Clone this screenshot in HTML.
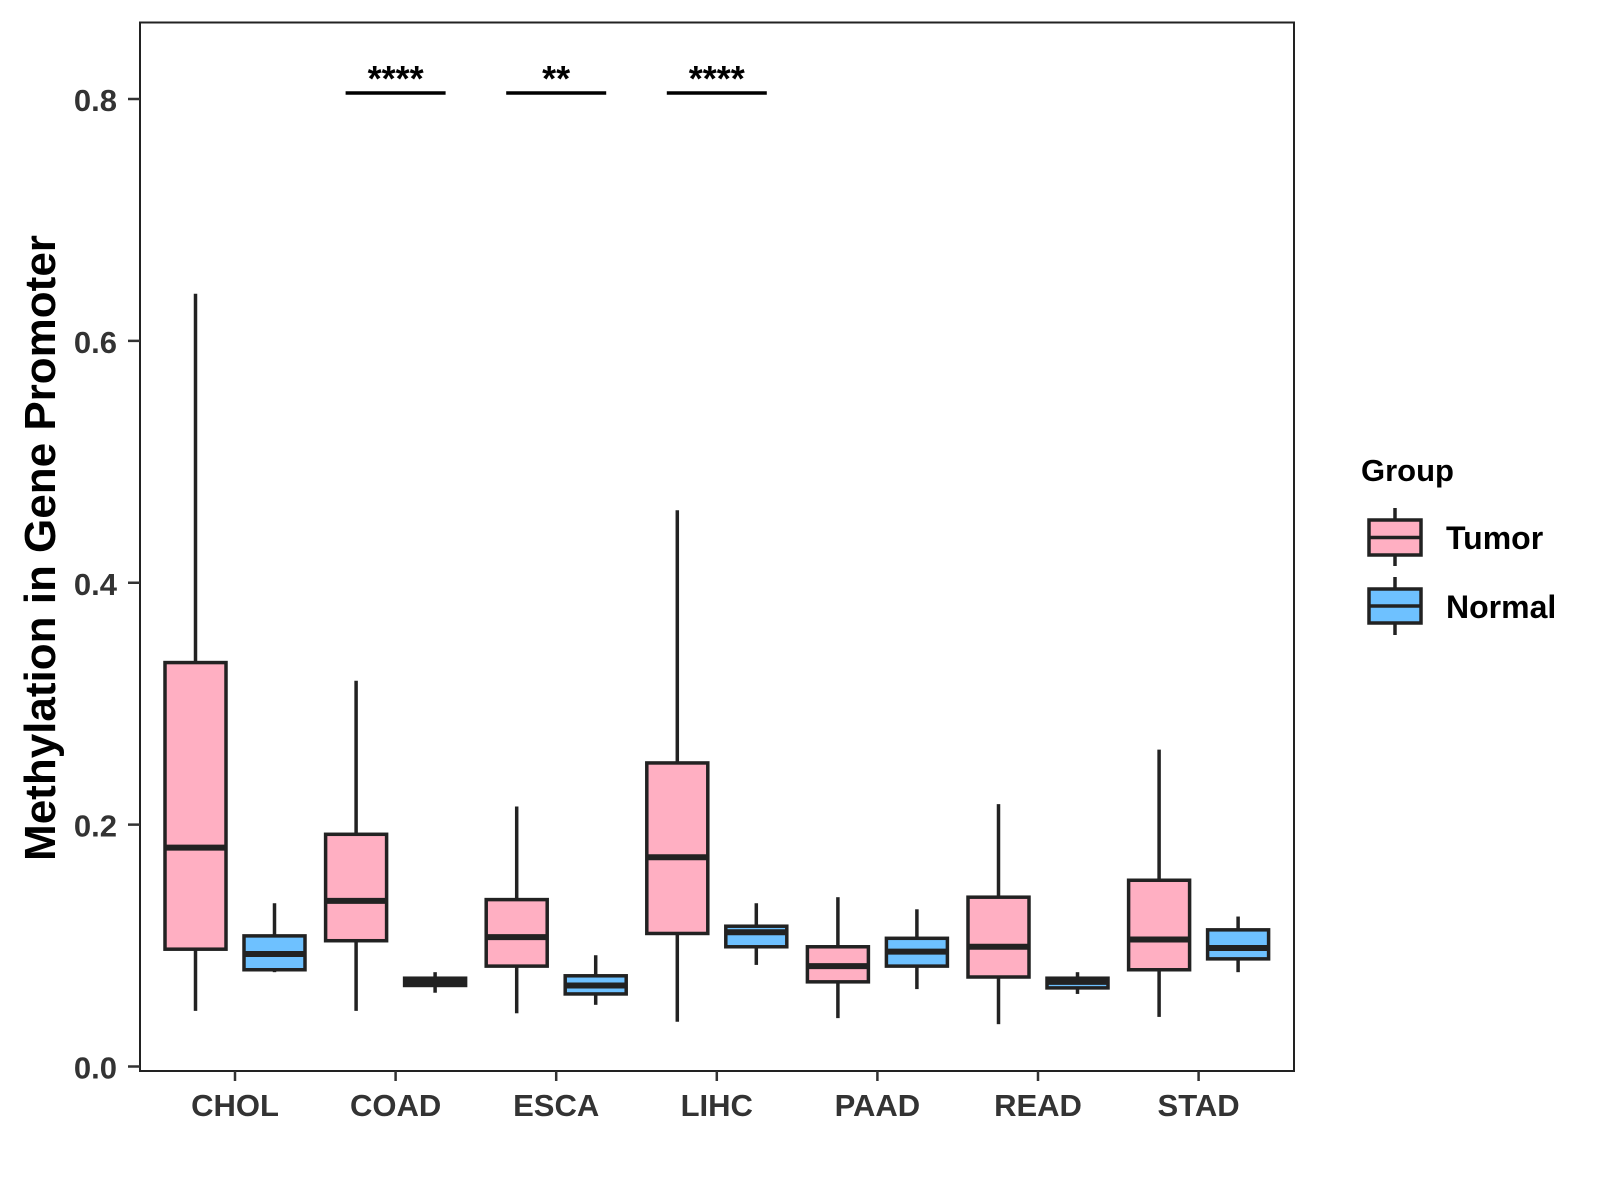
<!DOCTYPE html>
<html><head><meta charset="utf-8"><style>
html,body{margin:0;padding:0;background:#fff;}
svg{display:block;font-family:"Liberation Sans",Arial,sans-serif;font-weight:bold;}
</style></head><body>
<svg id="chart" width="1600" height="1200" viewBox="0 0 1600 1200" xmlns="http://www.w3.org/2000/svg">
<rect x="0" y="0" width="1600" height="1200" fill="#fff"/>
<rect x="140" y="22.5" width="1154" height="1048.5" fill="none" stroke="#222" stroke-width="2"/>
<g id="marks"></g>
<text x="55" y="548" transform="rotate(-90 55 548)" text-anchor="middle" font-size="44" fill="#000">Methylation in Gene Promoter</text>
<g>
<text x="1361" y="481" font-size="31" fill="#000">Group</text>
<g>
<line x1="1395" y1="508" x2="1395" y2="566" stroke="#222" stroke-width="3.5"/>
<rect x="1369" y="520" width="52" height="35" fill="#FFAFC2" stroke="#222" stroke-width="3.5"/>
<line x1="1369" y1="537.5" x2="1421" y2="537.5" stroke="#222" stroke-width="3.5"/>
<text x="1446" y="549" font-size="32" fill="#000">Tumor</text>
</g>
<g>
<line x1="1395" y1="577" x2="1395" y2="635" stroke="#222" stroke-width="3.5"/>
<rect x="1369" y="589" width="52" height="34" fill="#6EC1FF" stroke="#222" stroke-width="3.5"/>
<line x1="1369" y1="606" x2="1421" y2="606" stroke="#222" stroke-width="3.5"/>
<text x="1446" y="618" font-size="32" fill="#000">Normal</text>
</g>
</g>
</svg>
<script>
const categories = ["CHOL","COAD","ESCA","LIHC","PAAD","READ","STAD"];
// [lower whisker, q1, median, q3, upper whisker]
const tumorStats = [
 [0.046,0.097,0.181,0.334,0.639],
 [0.046,0.104,0.137,0.192,0.319],
 [0.044,0.083,0.107,0.138,0.215],
 [0.037,0.110,0.173,0.251,0.460],
 [0.040,0.070,0.083,0.099,0.140],
 [0.035,0.074,0.099,0.140,0.217],
 [0.041,0.080,0.105,0.154,0.262]
];
const normalStats = [
 [0.078,0.080,0.093,0.108,0.135],
 [0.061,0.067,0.070,0.073,0.078],
 [0.051,0.060,0.067,0.075,0.092],
 [0.084,0.099,0.111,0.116,0.135],
 [0.064,0.083,0.095,0.106,0.130],
 [0.060,0.065,0.070,0.073,0.078],
 [0.078,0.089,0.098,0.113,0.124]
];
const yTicks = [0,0.2,0.4,0.6,0.8];
const yTickLabels = ["0.0","0.2","0.4","0.6","0.8"];
const sigCategories = ["COAD","ESCA","LIHC"];
const sigLabels = ["****","**","****"];
const sigLevel = 0.805;

const NS="http://www.w3.org/2000/svg";
const g=document.getElementById('marks');
function y(v){return 1066.5 - v*(967.5/0.8);}
function x(i){return 235 + i*160.6;}
function mk(tag,attrs,parent){const e=document.createElementNS(NS,tag);for(const k in attrs)e.setAttribute(k,attrs[k]);(parent||g).appendChild(e);return e;}

yTicks.forEach((t,i)=>{
  const l=mk('line',{x1:128,x2:140,y1:y(t),y2:y(t),stroke:'#333','stroke-width':2.5});
  
  
  const tx=mk('text',{x:117,y:y(t)+12,'text-anchor':'end','font-size':31,fill:'#333'});
  tx.textContent=yTickLabels[i];
  
  
});
categories.forEach((c,i)=>{
  const l=mk('line',{x1:x(i),x2:x(i),y1:1071,y2:1081,stroke:'#333','stroke-width':2.5});
  
  
  const tx=mk('text',{x:x(i),y:1116,'text-anchor':'middle','font-size':31,fill:'#333'});
  tx.textContent=c;
  
  
});
function box(cx,s,fill,name){
  const grp=mk('g',{});
  
  
  const w=61;
  mk('line',{x1:cx,x2:cx,y1:y(s[0]),y2:y(s[1]),stroke:'#222','stroke-width':3.5},grp);
  mk('line',{x1:cx,x2:cx,y1:y(s[3]),y2:y(s[4]),stroke:'#222','stroke-width':3.5},grp);
  mk('rect',{x:cx-w/2,y:y(s[3]),width:w,height:y(s[1])-y(s[3]),fill:fill,stroke:'#222','stroke-width':3.5},grp);
  mk('line',{x1:cx-w/2,x2:cx+w/2,y1:y(s[2]),y2:y(s[2]),stroke:'#222','stroke-width':6},grp);
}
categories.forEach((c,i)=>{
  box(x(i)-39.5,tumorStats[i],'#FFAFC2','box-tumor-'+c.toLowerCase());
  box(x(i)+39.5,normalStats[i],'#6EC1FF','box-normal-'+c.toLowerCase());
});
sigCategories.forEach((c,k)=>{
  const i=categories.indexOf(c);
  const l=mk('line',{x1:x(i)-50,x2:x(i)+50,y1:y(sigLevel),y2:y(sigLevel),stroke:'#000','stroke-width':3.5});
  
  
  const tx=mk('text',{x:x(i),y:y(sigLevel)-2,'text-anchor':'middle','font-size':36,fill:'#000'});
  tx.textContent=sigLabels[k];
  
  
});
</script>
</body></html>
